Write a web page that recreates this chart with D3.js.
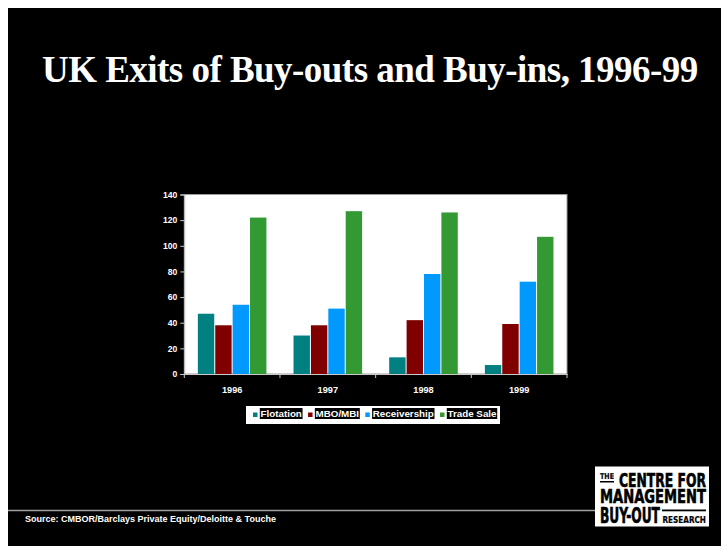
<!DOCTYPE html>
<html>
<head>
<meta charset="utf-8">
<script src="https://cdn.jsdelivr.net/npm/d3@7"></script>
<style>
  html, body { margin: 0; padding: 0; background: #ffffff; }
  svg { display: block; }
</style>
</head>
<body>
<svg id="chart" width="721" height="546"></svg>
<script>
// Exits of UK buy-outs and buy-ins by route, 1996-99
const years = ["1996", "1997", "1998", "1999"];
const seriesNames = ["Flotation", "MBO/MBI", "Receivership", "Trade Sale"];
const flotation = [47, 30, 13, 7];
const mboMbi = [38, 38, 42, 39];
const receivership = [54, 51, 78, 72];
const tradeSale = [122, 127, 126, 107];
const yTicks = [0, 20, 40, 60, 80, 100, 120, 140];
const seriesColors = ["#008080", "#800000", "#0099ff", "#339933"];

const seriesValues = [flotation, mboMbi, receivership, tradeSale];
const rows = years.map((yr, i) => {
  const r = { year: yr };
  seriesNames.forEach((s, j) => { r[s] = seriesValues[j][i]; });
  return r;
});

const svg = d3.select("#chart");

// slide background
svg.append("rect").attr("x", 8).attr("y", 8).attr("width", 713).attr("height", 538).attr("fill", "#000");

// title
svg.append("text")
  .attr("x", 42).attr("y", 82)
  .attr("font-family", "'Liberation Serif', 'Times New Roman', serif")
  .attr("font-weight", "bold")
  .attr("font-size", 37)
  .attr("letter-spacing", -0.53)
  .attr("fill", "#fff")
  .text("UK Exits of Buy-outs and Buy-ins, 1996-99");

// plot area
const plot = { left: 184.3, right: 567, top: 194.5, bottom: 374 };

svg.append("rect")
  .attr("x", plot.left).attr("y", plot.top)
  .attr("width", plot.right - plot.left).attr("height", plot.bottom - plot.top)
  .attr("fill", "#fff").attr("stroke", "#9a9a9a").attr("stroke-width", 1);

const x0 = d3.scaleBand().domain(years).range([plot.left, plot.right]).paddingInner(0).paddingOuter(0);
const barW = x0.bandwidth() / 5.5;
const x1 = d3.scaleBand().domain(seriesNames)
  .range([barW * 0.75, barW * 0.75 + barW * 4]);
const y = d3.scaleLinear().domain([0, 140]).range([plot.bottom, plot.top]);
const color = d3.scaleOrdinal().domain(seriesNames).range(seriesColors);

// bars
const groups = svg.append("g").selectAll("g").data(rows).join("g")
  .attr("transform", d => `translate(${x0(d.year)},0)`);
groups.selectAll("rect")
  .data(d => seriesNames.map(s => ({ key: s, value: d[s] })))
  .join("rect")
  .attr("x", d => x1(d.key) + 0.5)
  .attr("y", d => y(d.value))
  .attr("width", x1.bandwidth() - 1)
  .attr("height", d => y(0) - y(d.value))
  .attr("fill", d => color(d.key));

// y axis
const yAxis = svg.append("g")
  .attr("transform", `translate(${plot.left},0)`)
  .call(d3.axisLeft(y).tickValues(yTicks).tickSize(4).tickPadding(3));
yAxis.select(".domain").attr("stroke", "#c8c8c8");
yAxis.selectAll(".tick line").attr("stroke", "#c8c8c8");
yAxis.selectAll("text")
  .attr("fill", "#fff")
  .attr("font-family", "'Liberation Sans', Arial, sans-serif")
  .attr("font-weight", "bold")
  .attr("font-size", 8.6);

// x axis
const xAxis = svg.append("g")
  .attr("transform", `translate(0,${plot.bottom})`)
  .call(d3.axisBottom(x0).tickSize(0).tickPadding(12));
xAxis.select(".domain").attr("stroke", "#c8c8c8");
xAxis.selectAll("text")
  .attr("fill", "#fff")
  .attr("font-family", "'Liberation Sans', Arial, sans-serif")
  .attr("font-weight", "bold")
  .attr("font-size", 9.2);
// category separator ticks
const sepTicks = years.map(yr => x0(yr)).concat([plot.right]);
xAxis.selectAll("line.sep").data(sepTicks).join("line")
  .attr("class", "sep")
  .attr("x1", d => d).attr("x2", d => d)
  .attr("y1", 0).attr("y2", 4)
  .attr("stroke", "#c8c8c8");

// legend
const legend = svg.append("g");
legend.append("rect")
  .attr("x", 246).attr("y", 406).attr("width", 254).attr("height", 18)
  .attr("fill", "#fff");
let lx = 253;
seriesNames.forEach((s, i) => {
  legend.append("rect")
    .attr("x", lx).attr("y", 412.5).attr("width", 4.5).attr("height", 4.5)
    .attr("fill", seriesColors[i]);
  const bg = legend.append("rect").attr("fill", "#000");
  const t = legend.append("text")
    .attr("x", lx + 7.5).attr("y", 417.3)
    .attr("fill", "#fff")
    .attr("font-family", "'Liberation Sans', Arial, sans-serif")
    .attr("font-weight", "bold")
    .attr("font-size", 9.8)
    .text(s);
  const w = t.node().getComputedTextLength();
  bg.attr("x", lx + 6.8).attr("y", 408).attr("width", w + 1.4).attr("height", 11);
  lx = lx + 6.8 + w + 1.4 + 5.5;
});

// footer rule and source
svg.append("line")
  .attr("x1", 8).attr("x2", 595).attr("y1", 510.5).attr("y2", 510.5)
  .attr("stroke", "#a0a0a0").attr("stroke-width", 1.5);
svg.append("text")
  .attr("x", 25).attr("y", 522)
  .attr("fill", "#fff")
  .attr("font-family", "'Liberation Sans', Arial, sans-serif")
  .attr("font-weight", "bold")
  .attr("font-size", 9)
  .text("Source: CMBOR/Barclays Private Equity/Deloitte & Touche");

// centre logo: condensed lettering, each word squeezed to its box width
const logo = svg.append("g");
logo.append("rect").attr("x", 595).attr("y", 466.5).attr("width", 114).attr("height", 60).attr("fill", "#fff");
const logoFont = "'DejaVu Sans Condensed', 'Liberation Sans Narrow', sans-serif";
function logoText(txt, x, yb, size, len) {
  const g = logo.append("g").attr("transform", `translate(${x},${yb})`);
  const t = g.append("text")
    .attr("x", 0).attr("y", 0)
    .attr("font-family", logoFont)
    .attr("font-weight", "bold")
    .attr("font-size", size)
    .attr("fill", "#000")
    .attr("stroke", "#000")
    .attr("stroke-width", size > 12 ? 0.6 : 0.2)
    .text(txt);
  const natural = t.node().getComputedTextLength();
  t.attr("transform", `scale(${len / natural},1)`);
}
logoText("THE", 600, 479, 8, 14);
logo.append("rect").attr("x", 600).attr("y", 481).attr("width", 14).attr("height", 1.5).attr("fill", "#000");
logoText("CENTRE FOR", 619, 486.8, 19.5, 87);
logoText("MANAGEMENT", 600, 503.4, 19.5, 106);
logoText("BUY-OUT", 600, 523.4, 21.5, 60);
logo.append("rect").attr("x", 662).attr("y", 509.5).attr("width", 44).attr("height", 1.8).attr("fill", "#000");
logoText("RESEARCH", 662.5, 523.4, 9.5, 43.5);
</script>
</body>
</html>
